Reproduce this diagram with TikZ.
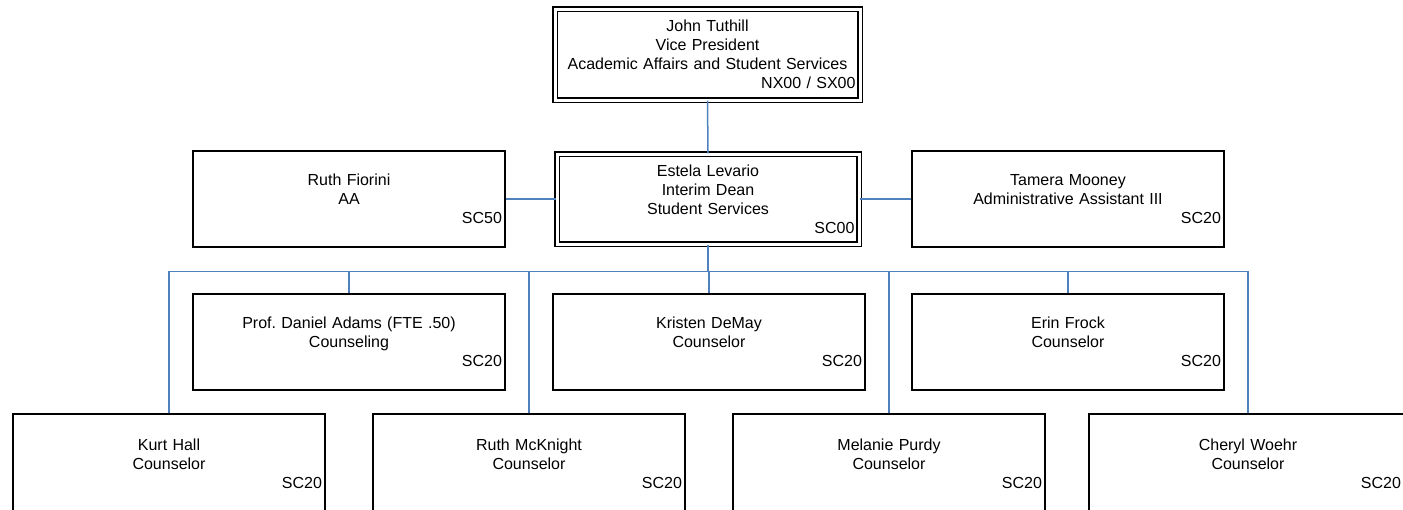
\documentclass[tikz,border=0pt]{standalone}
\usepackage{fontspec}
\setmainfont{Liberation Sans}
\definecolor{linkblue}{RGB}{79,129,189}
\newcommand{\unitcode}[1]{\\\hspace*{0pt plus 1fill}#1}

\begin{document}
\begin{tikzpicture}[x=1pt, y=-1pt,
        every node/.style={font=\fontsize{16}{19}\selectfont, align=center},
        box/.style={draw, line width=1.4pt, minimum width=312pt, minimum height=96pt, text width=306pt, inner sep=2pt},
        headbox/.style={draw, double, line width=1.3pt, double distance=3pt, inner sep=4pt},
        link/.style={draw=linkblue, line width=1.5pt}
    ]
        \useasboundingbox (0,0) rectangle (1403,509);

        % Leitung
        \node [headbox, minimum width=305pt, minimum height=91pt, text width=296pt] (vp) at (707.5,54.5)
            {John Tuthill\\Vice President\\Academic Affairs and Student Services\unitcode{NX00 / SX00}};
        \node [headbox, minimum width=302pt, minimum height=90pt, text width=293pt] (dean) at (708,199)
            {Estela Levario\\Interim Dean\\Student Services\unitcode{SC00}};
        \node [box] (fiorini) at (349,199) {Ruth Fiorini\\AA\unitcode{SC50}};
        \node [box] (mooney) at (1068,199) {Tamera Mooney\\Administrative Assistant III\unitcode{SC20}};

        % Counselors
        \node [box] (adams) at (349,342) {Prof.\ Daniel Adams (FTE .50)\\Counseling\unitcode{SC20}};
        \node [box] (demay) at (709,342) {Kristen DeMay\\Counselor\unitcode{SC20}};
        \node [box] (frock) at (1068,342) {Erin Frock\\Counselor\unitcode{SC20}};
        \node [box, minimum height=100pt] (hall) at (169,464) {Kurt Hall\\Counselor\unitcode{SC20}};
        \node [box, minimum height=100pt] (mcknight) at (529,464) {Ruth McKnight\\Counselor\unitcode{SC20}};
        \node [box, minimum height=100pt] (purdy) at (889,464) {Melanie Purdy\\Counselor\unitcode{SC20}};
        \node [box, minimum height=100pt, minimum width=318pt] (woehr) at (1248,464) {Cheryl Woehr\\Counselor\unitcode{SC20}};

        % Verbindungen
        \draw[link] (vp.south) -- (dean.north);
        \draw[link] (fiorini) -- (dean);
        \draw[link] (dean) -- (mooney);
        \draw[link] (dean.south) -- ++(0,27) coordinate (bus);
        \draw[link] (hall.north) |- (bus) -| (woehr.north);
        \foreach \n in {adams, demay, frock, mcknight, purdy}
            \draw[link] (bus -| \n.north) -- (\n.north);
    \end{tikzpicture}
\end{document}
